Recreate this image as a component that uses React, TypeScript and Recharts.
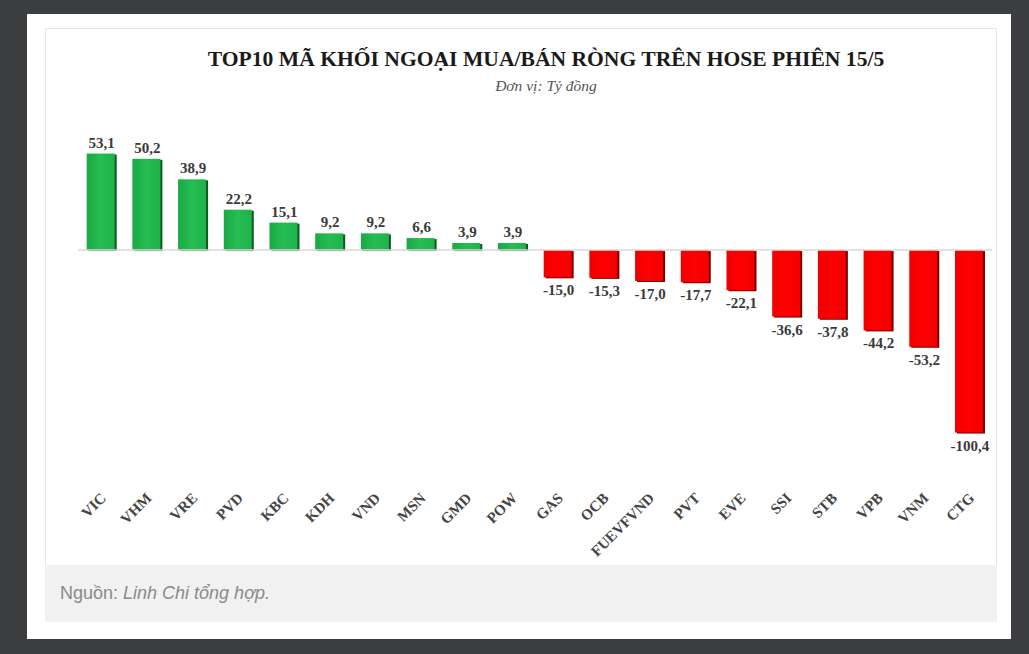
import { BarChart, Bar, XAxis, YAxis, ReferenceLine, LabelList, Cell } from "recharts";

// Data
const tickers = [
	"VIC", "VHM", "VRE", "PVD", "KBC", "KDH", "VND", "MSN", "GMD", "POW",
	"GAS", "OCB", "FUEVFVND", "PVT", "EVE", "SSI", "STB", "VPB", "VNM", "CTG",
];
const netValues = [
	53.1, 50.2, 38.9, 22.2, 15.1, 9.2, 9.2, 6.6, 3.9, 3.9,
	-15.0, -15.3, -17.0, -17.7, -22.1, -36.6, -37.8, -44.2, -53.2, -100.4,
];

const data = tickers.map((name, i) => ({ name, value: netValues[i] }));

const SERIF = "'Liberation Serif', 'DejaVu Serif', serif";
const GREEN = "#1fb24a";
const RED = "#ff0000";

const fmt = (v: number) => v.toFixed(1).replace(".", ",");

const ShadowBar = (props: any) => {
	const { x, y, width, height, value } = props;
	const top = height < 0 ? y + height : y;
	const h = Math.abs(height);
	const pos = value >= 0;
	return (
		<g>
			<rect x={x + 2} y={top + 1} width={width} height={h} fill={pos ? "#0b5a22" : "#7a0000"} />
			<rect x={x} y={top} width={width} height={h} fill={pos ? "url(#greenGrad)" : "url(#redGrad)"} />
		</g>
	);
};

const ValueLabel = (props: any) => {
	const { x, y, width, height, value } = props;
	const top = height < 0 ? y + height : y;
	const h = Math.abs(height);
	const ly = value >= 0 ? top - 6 : top + h + 18;
	return (
		<text
			x={x + width / 2 + 1}
			y={ly}
			textAnchor="middle"
			fontFamily={SERIF}
			fontWeight="bold"
			fontSize={15}
			fill="#3a3a3a"
		>
			{fmt(value)}
		</text>
	);
};

const TickerTick = (props: any) => {
	const { x, y, payload } = props;
	return (
		<text
			transform={`translate(${x + 6},${y + 41}) rotate(-45)`}
			textAnchor="end"
			fontFamily={SERIF}
			fontWeight="bold"
			fontSize={15}
			fill="#444"
		>
			{payload.value}
		</text>
	);
};

export default function App() {
	return (
		<div
			style={{
				position: "absolute",
				left: 0,
				top: 0,
				width: 1029,
				height: 654,
				background: "#3d3e40",
				overflow: "hidden",
			}}
		>
			<div
				style={{
					position: "absolute",
					left: 27,
					top: 14,
					width: 984,
					height: 625,
					background: "#fff",
				}}
			/>
			<div
				style={{
					position: "absolute",
					left: 45,
					top: 28,
					width: 950,
					height: 537,
					border: "1px solid #e6e6e6",
					borderBottom: "none",
					background: "#fff",
				}}
			>
				<div
					style={{
						position: "absolute",
						left: 0,
						top: 18,
						width: 1000,
						textAlign: "center",
						fontFamily: SERIF,
						fontWeight: "bold",
						fontSize: 21.6,
						color: "#1a1a1a",
						whiteSpace: "nowrap",
					}}
				>
					TOP10 MÃ KHỐI NGOẠI MUA/BÁN RÒNG TRÊN HOSE PHIÊN 15/5
				</div>
				<div
					style={{
						position: "absolute",
						left: 0,
						top: 48,
						width: 1000,
						textAlign: "center",
						fontFamily: SERIF,
						fontStyle: "italic",
						fontSize: 15.5,
						color: "#555",
					}}
				>
					Đơn vị: Tỷ đồng
				</div>
				<div style={{ position: "absolute", left: 0, top: 0 }}>
					<BarChart
						width={950}
						height={537}
						data={data}
						barCategoryGap="19%"
						margin={{ top: 112, right: 4, bottom: 56, left: 32 }}
					>
						<defs>
							<linearGradient id="greenGrad" x1="0" y1="0" x2="1" y2="0">
								<stop offset="0%" stopColor="#1aa844" />
								<stop offset="50%" stopColor="#26bd53" />
								<stop offset="100%" stopColor={GREEN} />
							</linearGradient>
							<linearGradient id="redGrad" x1="0" y1="0" x2="1" y2="0">
								<stop offset="0%" stopColor="#f00000" />
								<stop offset="50%" stopColor={RED} />
								<stop offset="100%" stopColor="#f20000" />
							</linearGradient>
						</defs>
						<XAxis
							dataKey="name"
							axisLine={false}
							tickLine={false}
							interval={0}
							height={60}
							tick={<TickerTick />}
						/>
						<YAxis hide domain={[-110, 60]} />
						<ReferenceLine y={0} stroke="#d9d9d9" strokeWidth={1.5} />
						<Bar dataKey="value" shape={<ShadowBar />} isAnimationActive={false}>
							{data.map((d) => (
								<Cell key={d.name} fill={d.value >= 0 ? GREEN : RED} />
							))}
							<LabelList dataKey="value" content={<ValueLabel />} />
						</Bar>
					</BarChart>
				</div>
			</div>
			<div
				style={{
					position: "absolute",
					left: 45,
					top: 565,
					width: 952,
					height: 57,
					background: "#f1f1f1",
					fontFamily: "'Liberation Sans', Arial, sans-serif",
					fontSize: 18,
					color: "#8a8a8a",
					lineHeight: "57px",
					boxSizing: "border-box",
					paddingLeft: 15,
				}}
			>
				Nguồn: <i>Linh Chi tổng hợp.</i>
			</div>
		</div>
	);
}
